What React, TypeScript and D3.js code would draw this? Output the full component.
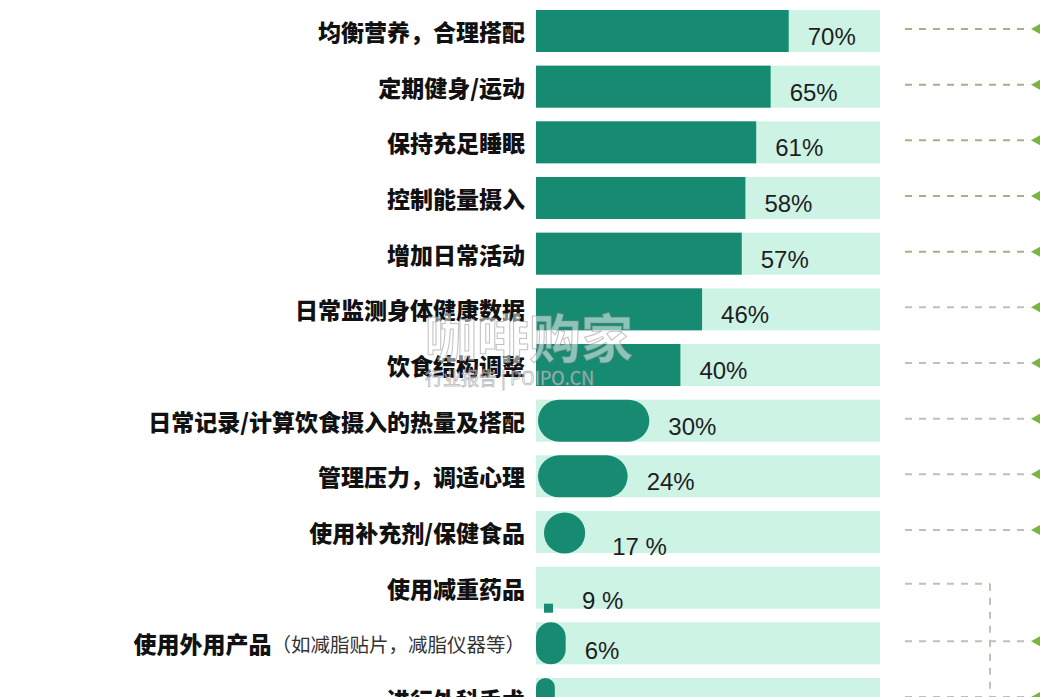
import React from "react";
import * as d3 from "d3";

const categories = [
  "均衡营养，合理搭配",
  "定期健身/运动",
  "保持充足睡眠",
  "控制能量摄入",
  "增加日常活动",
  "日常监测身体健康数据",
  "饮食结构调整",
  "日常记录/计算饮食摄入的热量及搭配",
  "管理压力，调适心理",
  "使用补充剂/保健食品",
  "使用减重药品",
  "使用外用产品",
  "进行外科手术",
];
const notes = ["", "", "", "", "", "", "", "", "", "", "", "（如减脂贴片，减脂仪器等）", ""];
const values = [70, 65, 61, 58, 57, 46, 40, 30, 24, 17, 9, 6, 3];
const valueLabels = ["70%", "65%", "61%", "58%", "57%", "46%", "40%", "30%", "24%", "17 %", "9 %", "6%", "3%"];
const shapes = ["rect", "rect", "rect", "rect", "rect", "rect", "rect", "pill", "pill", "circle", "dot", "capsule", "capsule"];
const leaders = ["arrow", "arrow", "arrow", "arrow", "arrow", "arrow", "arrow", "arrow", "arrow", "arrow", "elbow", "arrow", "arrow"];

const W = 1040;
const H = 697;
const BAR = "#178a72";
const BG = "#cdf3e5";
const CJK = "'Noto Sans CJK SC', 'Noto Sans', sans-serif";
const NUM = "'Liberation Sans', Arial, sans-serif";

export default function App() {
  const y = d3.scaleBand<string>().domain(categories).range([10, 720]).paddingInner(0.2455).paddingOuter(0);
  const x = d3.scaleLinear().domain([0, 100]).range([536, 897]);
  const bw = y.bandwidth();
  const bgEnd = 880;
  const leaderStart = 905;
  const leaderEnd = 1031;
  const elbowX = 990;

  return (
    <svg width={W} height={H} style={{ position: "absolute", left: 0, top: 0, background: "#fff" }}>
      {categories.map((c, i) => {
        const top = y(c)!;
        const cy = top + bw / 2;
        const v = values[i];
        const kind = shapes[i];
        let mark: React.ReactNode = null;
        let end = x(v);
        let labelDy = 35;
        if (kind === "rect") {
          mark = <rect x={x(0)} y={top} width={x(v) - x(0)} height={bw} fill={BAR} />;
        } else if (kind === "pill") {
          const x0 = x(0) + 2;
          end = x(v) + 5;
          mark = <rect x={x0} y={top} width={end - x0} height={bw} rx={bw / 2} fill={BAR} />;
        } else if (kind === "circle") {
          const r = bw * 0.49;
          const cx = x(0) + 8 + r;
          mark = <circle cx={cx} cy={cy + 1} r={r} fill={BAR} />;
          end = cx + r + 8;
          labelDy = 44;
        } else if (kind === "dot") {
          const s = 9;
          mark = <rect x={x(0) + 8} y={top + bw - 5} width={s} height={s} fill={BAR} />;
          end = x(0) + 8 + s + 10;
          labelDy = 42;
        } else {
          const w = x(v) - x(0) + 8;
          mark = <rect x={x(0)} y={top} width={w} height={bw} rx={w / 2} ry={Math.min(w / 2, bw / 2)} fill={BAR} />;
          end = x(0) + w;
          labelDy = 37;
        }
        return (
          <g key={c}>
            <rect x={x(0)} y={top} width={bgEnd - x(0)} height={bw} fill={BG} />
            {mark}
            <text x={end + 19} y={top + labelDy} fontFamily={NUM} fontSize={24} fill="#1e1e1e">
              {valueLabels[i]}
            </text>
            <text x={525} y={cy} textAnchor="end" dominantBaseline="central" fontFamily={CJK} fill="#111">
              <tspan fontSize={23} fontWeight={900}>{c}</tspan>
              {notes[i] ? (
                <tspan fontSize={19.5} fontWeight={400} fill="#333">{notes[i]}</tspan>
              ) : null}
            </text>
          </g>
        );
      })}
      {categories.map((c, i) => {
        const cy = y(c)! + bw / 2;
        const col = i < 5 ? "#a9ad8c" : "#bfc2b2";
        if (leaders[i] === "elbow") {
          return (
            <g key={"l" + c}>
              <line x1={leaderStart} x2={elbowX} y1={cy - 4} y2={cy - 4} stroke={col} strokeWidth={2} strokeDasharray="7 7" />
              <line x1={elbowX} x2={elbowX} y1={cy - 4} y2={H} stroke={col} strokeWidth={2} strokeDasharray="7 7" />
            </g>
          );
        }
        return (
          <g key={"l" + c}>
            <line x1={leaderStart} x2={leaderEnd} y1={cy - 2} y2={cy - 2} stroke={col} strokeWidth={2} strokeDasharray="7 7" />
            <path d={`M${leaderEnd},${cy - 2} L${leaderEnd + 9},${cy - 7} L${leaderEnd + 9},${cy + 3} Z`} fill="#7cb342" />
          </g>
        );
      })}
      <g fontFamily={CJK} pointerEvents="none">
        <text x={425} y={358} fontSize={52} fontWeight={700} fill="rgba(255,255,255,0.5)" stroke="rgba(140,140,140,0.55)" strokeWidth={1}>
          咖啡购家
        </text>
        <text x={425} y={385} fontSize={18} fill="rgba(255,255,255,0.5)" stroke="rgba(140,140,140,0.6)" strokeWidth={0.8}>
          行业报告 | POIPO.CN
        </text>
      </g>
    </svg>
  );
}
